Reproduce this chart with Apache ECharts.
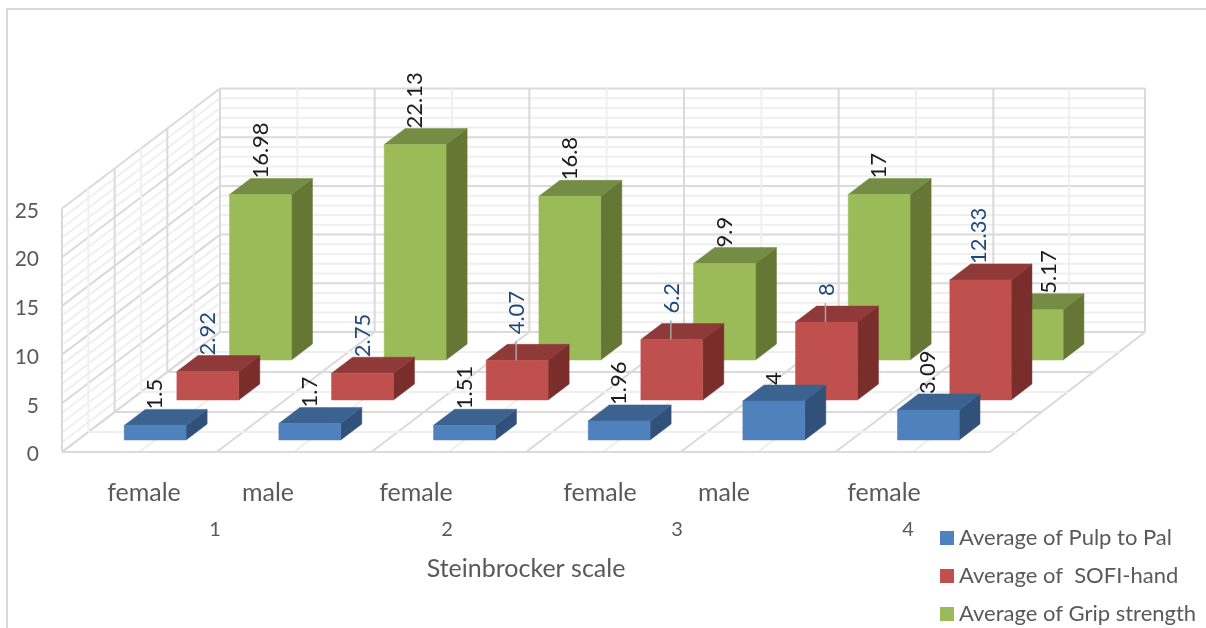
<!DOCTYPE html>
<html><head><meta charset="utf-8">
<style>html,body{margin:0;padding:0;background:#fff}#c{width:1206px;height:628px}</style>
<script src="https://cdn.jsdelivr.net/npm/echarts@6/dist/echarts.min.js"></script>
</head><body><div id="c"></div>
<script>
// ---- data ----
const categories = ['1 female','1 male','2 female','3 female','3 male','4 female'];
const pulpToPal = [1.5,1.7,1.51,1.96,4,3.09];
const sofiHand = [2.92,2.75,4.07,6.2,8,12.33];
const gripStrength = [16.98,22.13,16.8,9.9,17,5.17];
const yTicks = [0,5,10,15,20,25];
const minorYTicks = [1,2,3,4,6,7,8,9,11,12,13,14,16,17,18,19,21,22,23,24];
const genderLabels = ['female','male','female','female','male','female'];
const groupLabels = ['1','2','3','4'];
const seriesNames = ['Average of Pulp to Pal','Average of  SOFI-hand','Average of Grip strength'];
const axisTitle = 'Steinbrocker scale';

// ---- layout and style ----
const genderX = [144,268,416,600,724,884];
const groupX = [215,447,677,908];
const DX = 158/3, DY = -40;            // pixel vector of one depth slot
const BAR = 0.4, GAP = 0.3;
const MAJOR = '#DADADA', MINOR = '#EFEFEF';
const FONT = 'Lato';
const palette = [
  {front:'#4F81BD', top:'#3C628F', side:'#31507A', label:'#1a1a1a'},
  {front:'#C0504D', top:'#8F3A38', side:'#7A2E2C', label:'#1F497D'},
  {front:'#9BBB59', top:'#748C43', side:'#667635', label:'#1a1a1a'}
];
const labelLift = [[0,0,0,0,0,0],[0,0,10,10,10,0],[0,0,0,0,0,0]];
const labelShift = [[0,0,0,0,0,0],[0,0,0,0,0,-2],[0,0,0,0,0,16]];

function project(api, catPos, depth, value){
  const o = api.coord([0,value]);
  const band = api.size([1,0])[0];
  const trim = Math.max(0,catPos-5)*depth;   // last back-wall bay is a little narrower
  return [o[0]-band/2+catPos*band+depth*DX-trim, o[1]+depth*DY];
}
function line(a,b,color,width){
  return {type:'line',shape:{x1:a[0],y1:a[1],x2:b[0],y2:b[1]},style:{stroke:color,lineWidth:width},silent:true};
}
function valueLines(params,api){
  const v = api.value(1), major = yTicks.includes(v);
  const c = major?MAJOR:MINOR;
  return {type:'group',children:[
    line(project(api,0,0,v),project(api,0,3,v),c,2),
    line(project(api,0,3,v),project(api,6,3,v),c,2)
  ]};
}
function categoryLines(params,api){
  const p = api.value(1)/2, major = Number.isInteger(p);
  const c = major?MAJOR:MINOR;
  return {type:'group',children:[
    line(project(api,p,0,0),project(api,p,3,0),c,2),
    line(project(api,p,3,0),project(api,p,3,25),c,2)
  ]};
}
function depthLines(params,api){
  const d = api.value(1)/2, major = Number.isInteger(d);
  const c = major?MAJOR:MINOR;
  return {type:'group',children:[
    line(project(api,0,d,0),project(api,6,d,0),c,2),
    line(project(api,0,d,0),project(api,0,d,25),c,2)
  ]};
}
function gridSeries(render,data){
  return {type:'custom',silent:true,renderItem:render,encode:{x:0,y:1},data:data,z:1,animation:false};
}
function barRenderer(s){
  return function(params,api){
    const i = api.value(0), v = api.value(1), col = palette[s];
    const x0=i+GAP, x1=i+GAP+BAR, d0=s+GAP, d1=s+GAP+BAR;
    const f0=project(api,x0,d0,0), f1=project(api,x1,d0,0), f2=project(api,x1,d0,v), f3=project(api,x0,d0,v);
    const b1=project(api,x1,d1,0), b2=project(api,x1,d1,v), b3=project(api,x0,d1,v);
    const cx=(f0[0]+f1[0])/2+labelShift[s][i];
    const lift=labelLift[s][i];
    const poly=(pts,fill)=>({type:'polygon',shape:{points:pts},style:{fill:fill,stroke:fill,lineWidth:0.5}});
    const children=[
      poly([f1,b1,b2,f2],col.side),
      poly([f3,f2,b2,b3],col.top),
      poly([f0,f1,f2,f3],col.front)
    ];
    if(lift){
      children.push(line([cx-1,b3[1]-3],[cx-1,f3[1]],'#A6A6A6',1.5));
    }
    children.push({type:'text',x:cx,y:b3[1]-lift,rotation:Math.PI/2,
      style:{text:String(v),x:0,y:0,align:'left',verticalAlign:'middle',fill:col.label,font:'22px '+FONT}});
    return {type:'group',children:children};
  };
}
function barSeries(s,values){
  return {type:'custom',name:seriesNames[s],renderItem:barRenderer(s),encode:{x:0,y:1},
    data:values.map((v,i)=>[i,v]),itemStyle:{color:palette[s].front},z:5+(2-s),animation:false};
}
const half = n => Array.from({length:n},(_,k)=>k);
const sortMinorFirst = a => a.filter(k=>k%2).concat(a.filter(k=>!(k%2)));

const chart = echarts.init(document.getElementById('c'),null,{renderer:'canvas'});
chart.setOption({
  backgroundColor:'#fff',
  animation:false,
  grid:{left:62,right:216,top:208.5,bottom:176},
  xAxis:{type:'category',data:categories,axisLine:{show:false},axisTick:{show:false},axisLabel:{show:false},splitLine:{show:false},
    name:axisTitle,nameLocation:'middle',nameGap:104,nameTextStyle:{color:'#595959',fontFamily:FONT,fontSize:25}},
  yAxis:{type:'value',min:0,max:25,interval:5,axisLine:{show:false},axisTick:{show:false},splitLine:{show:false},
    axisLabel:{margin:23,formatter:'{t|{value}}',
      rich:{t:{color:'#595959',fontFamily:FONT,fontSize:21,padding:[5,0,0,0]}}}},
  legend:{orient:'vertical',left:940,top:525,padding:0,itemWidth:14,itemHeight:14,itemGap:12,icon:'rect',
    data:seriesNames,selectedMode:false,
    textStyle:{color:'#595959',fontFamily:FONT,fontSize:22,lineHeight:26}},
  graphic:[
    {type:'polyline',silent:true,shape:{points:[[7,628],[7,9],[1206,9]]},style:{stroke:'#D9D9D9',lineWidth:2,fill:null}},
    ...genderLabels.map((t,i)=>({type:'text',x:genderX[i],y:493,silent:true,
      style:{text:t,fill:'#595959',font:'25px '+FONT,align:'center',verticalAlign:'middle'}})),
    ...groupLabels.map((t,i)=>({type:'text',x:groupX[i],y:530,silent:true,
      style:{text:t,fill:'#595959',font:'20px '+FONT,align:'center',verticalAlign:'middle'}}))
  ],
  series:[
    gridSeries(valueLines,minorYTicks.concat(yTicks).map(v=>[0,v])),
    gridSeries(categoryLines,sortMinorFirst(half(13)).map(k=>[0,k])),
    gridSeries(depthLines,sortMinorFirst(half(7)).map(k=>[0,k])),
    barSeries(2,gripStrength),
    barSeries(1,sofiHand),
    barSeries(0,pulpToPal)
  ]
});
</script></body></html>
